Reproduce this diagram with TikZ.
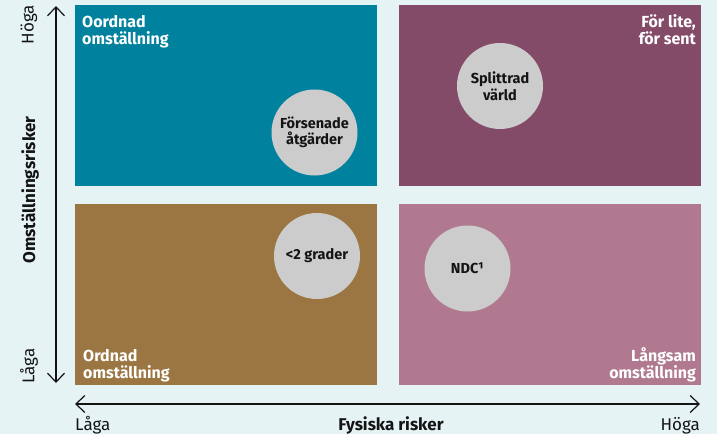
\documentclass[tikz,border=0pt]{standalone}
\usepackage{fontspec}
\setmainfont{Fira Sans}
\usetikzlibrary{arrows.meta,positioning}
\usepackage{xcolor}
\definecolor{bgmint}{HTML}{E6F3F4}
\definecolor{quadteal}{HTML}{00819E}
\definecolor{quadplum}{HTML}{844B69}
\definecolor{quadbrown}{HTML}{9B7642}
\definecolor{quadrose}{HTML}{B0798F}
\definecolor{bubblegray}{HTML}{CCCCCC}
\definecolor{ink}{HTML}{141414}
\tikzset{
  quad/.style={minimum width=302pt, minimum height=181pt, inner sep=0pt, anchor=north west},
  bubble/.style={circle, fill=bubblegray, minimum size=86pt, inner sep=0pt, align=center, text=ink, font=\bfseries\fontsize{14.5}{16.5}\selectfont},
  quadlabel/.style={text=white, inner sep=0pt, font=\bfseries\fontsize{16}{17}\selectfont},
  axislabel/.style={text=ink, inner sep=0pt, font=\fontsize{17}{19}\selectfont},
  axistitle/.style={axislabel, font=\bfseries\fontsize{17}{19}\selectfont},
  axis/.style={{Straight Barb[length=9pt, width=17pt]}-{Straight Barb[length=9pt, width=17pt]}, line width=1.2pt, draw=ink}
}

\begin{document}
\begin{tikzpicture}[x=1pt, y=-1pt]
  \fill[bgmint] (0,0) rectangle (717,434);
  \useasboundingbox (0,0) rectangle (717,434);
  % quadrants
  \node[quad, fill=quadteal] (tl) at (75,5) {};
  \node[quad, fill=quadplum] (tr) at (399,5) {};
  \node[quad, fill=quadbrown] (bl) at (75,204) {};
  \node[quad, fill=quadrose] (br) at (399,204) {};
  % quadrant labels
  \node[quadlabel, align=left, anchor=north west] (tllabel) at (82,15) {Oordnad\\omställning};
  \node[quadlabel, align=right, anchor=north east] (trlabel) at (696,14) {För lite,\\för sent};
  \node[quadlabel, align=left, anchor=south west] (bllabel) at (83,382) {Ordnad\\omställning};
  \node[quadlabel, align=right, anchor=south east] (brlabel) at (696,382) {Långsam\\omställning};
  % scenarios
  \node[bubble] (delayed) at (314.5,132.5) {Försenade\\åtgärder};
  \node[bubble] (split) at (500,86) {Splittrad\\värld};
  \node[bubble] (twodeg) at (317,256) {<2 grader};
  \node[bubble] (ndc) at (467.5,268.5) {NDC¹};
  % axes
  \coordinate (ytop) at (56,6);
  \coordinate (ybot) at (56,383);
  \coordinate (xleft) at (75,404);
  \coordinate (xright) at (700,404);
  \draw[axis] (ybot) -- (ytop);
  \draw[axis] (xleft) -- (xright);
  \node[axislabel, rotate=90, anchor=east] (yhigh) at (29,5) {Höga};
  \node[axislabel, rotate=90, anchor=west] (ylow) at (29,384) {Låga};
  \node[axistitle, rotate=90] (ytitle) at (30,190) {Omställningsrisker};
  \node[axislabel, anchor=base west] (xlow) at (75,430) {Låga};
  \node[axistitle, anchor=base] (xtitle) at (391,430) {Fysiska risker};
  \node[axislabel, anchor=base east] (xhigh) at (700,430) {Höga};
\end{tikzpicture}
\end{document}
